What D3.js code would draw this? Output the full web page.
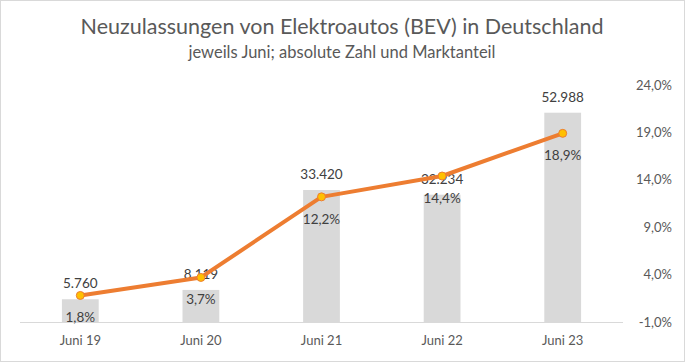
<!DOCTYPE html>
<meta charset="utf-8">
<script src="https://d3js.org/d3.v7.min.js"></script>
<style>
  body { margin: 0; background: #fff; }
  text { font-family: Lato, "Open Sans", sans-serif; fill: #595959; }
</style>
<div id="chart"></div>
<script>
    // data
    var categories = ["Juni 19", "Juni 20", "Juni 21", "Juni 22", "Juni 23"];
    var counts = [5760, 8119, 33420, 32234, 52988];
    var shares = [1.8, 3.7, 12.2, 14.4, 18.9];
    var shareTicks = [-1, 4, 9, 14, 19, 24];

    var W = 685, H = 362;
    var plotLeft = 20, plotRight = 623, plotTop = 85, plotBottom = 322;

    var svg = d3.select("#chart").append("svg")
        .attr("width", W).attr("height", H);

    // outer frame
    svg.append("rect")
        .attr("x", 0.5).attr("y", 0.5)
        .attr("width", W - 1).attr("height", H - 1)
        .attr("fill", "#fff").attr("stroke", "#d9d9d9");

    // titles
    svg.append("text").attr("x", 342).attr("y", 34)
        .attr("text-anchor", "middle").style("font-size", "21.5px")
        .text("Neuzulassungen von Elektroautos (BEV) in Deutschland");
    svg.append("text").attr("x", 342).attr("y", 58)
        .attr("text-anchor", "middle").style("font-size", "16.5px")
        .text("jeweils Juni; absolute Zahl und Marktanteil");

    var x = d3.scaleBand().domain(categories).range([plotLeft, plotRight]).padding(0);
    var yCount = d3.scaleLinear().domain([0, 60000]).range([plotBottom, plotTop]);
    var yShare = d3.scaleLinear().domain([-1, 24]).range([plotBottom, plotTop]);
    var barW = x.bandwidth() * 0.305;
    var cx = function(i) { return x(categories[i]) + x.bandwidth() / 2; };

    // bars
    svg.selectAll(".bar").data(counts).enter().append("rect")
        .attr("class", "bar")
        .attr("x", function(d, i) { return cx(i) - barW / 2; })
        .attr("y", function(d) { return yCount(d); })
        .attr("width", barW)
        .attr("height", function(d) { return plotBottom - yCount(d); })
        .attr("fill", "#d9d9d9");

    // baseline
    svg.append("line")
        .attr("x1", plotLeft).attr("x2", plotRight)
        .attr("y1", plotBottom + 0.5).attr("y2", plotBottom + 0.5)
        .attr("stroke", "#d9d9d9");

    // x axis labels
    var xAxis = svg.append("g")
        .attr("transform", "translate(0," + plotBottom + ")")
        .call(d3.axisBottom(x).tickSize(0).tickPadding(14));
    xAxis.select(".domain").remove();
    xAxis.selectAll("text").style("font-size", "13px").attr("fill", "#595959")
        .style("font-family", "Lato, sans-serif");

    // right axis
    var yAxis = svg.append("g")
        .attr("transform", "translate(672,0)")
        .call(d3.axisLeft(yShare).tickValues(shareTicks).tickSize(0).tickPadding(0)
            .tickFormat(function(d) { return d.toFixed(1).replace(".", ",") + "%"; }));
    yAxis.select(".domain").remove();
    yAxis.selectAll("text").style("font-size", "13px").attr("fill", "#595959")
        .style("font-family", "Lato, sans-serif");

    // count labels
    svg.selectAll(".clab").data(counts).enter().append("text")
        .attr("class", "clab")
        .attr("x", function(d, i) { return cx(i); })
        .attr("y", function(d) { return yCount(d) - 11; })
        .attr("text-anchor", "middle").style("font-size", "13.5px").style("fill", "#404040")
        .text(function(d) { return d3.format(",")(d).replace(",", "."); });

    // share line
    var line = d3.line()
        .x(function(d, i) { return cx(i); })
        .y(function(d) { return yShare(d); });
    svg.append("path").datum(shares)
        .attr("d", line)
        .attr("fill", "none")
        .attr("stroke", "#ed7d31")
        .attr("stroke-width", 4)
        .attr("stroke-linejoin", "round");

    svg.selectAll(".dot").data(shares).enter().append("circle")
        .attr("cx", function(d, i) { return cx(i); })
        .attr("cy", function(d) { return yShare(d); })
        .attr("r", 4)
        .attr("fill", "#ffc000")
        .attr("stroke", "#ed7d31")
        .attr("stroke-width", 1);

    // share labels
    svg.selectAll(".slab").data(shares).enter().append("text")
        .attr("class", "slab")
        .attr("x", function(d, i) { return cx(i); })
        .attr("y", function(d) { return yShare(d) + 27; })
        .attr("text-anchor", "middle").style("font-size", "13.5px").style("fill", "#404040")
        .text(function(d) { return d.toFixed(1).replace(".", ",") + "%"; });
</script>
